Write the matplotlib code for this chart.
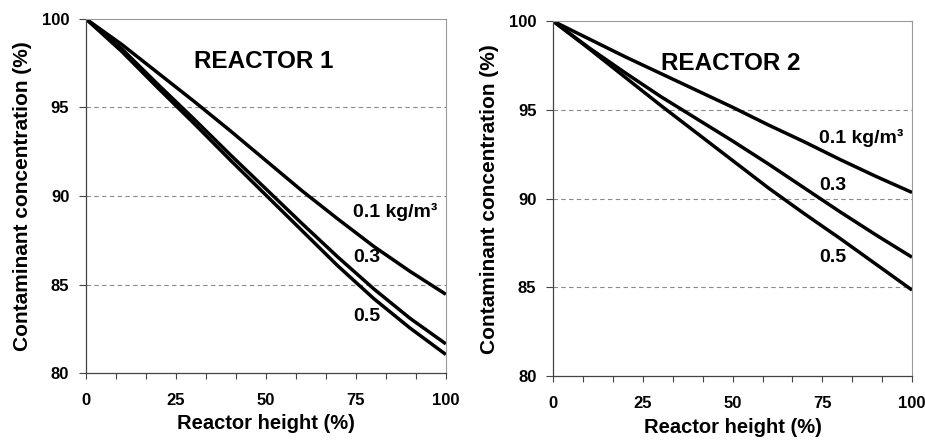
import numpy as np
import matplotlib
matplotlib.use("Agg")
from matplotlib import pyplot as plt
from matplotlib.ticker import MultipleLocator

plt.rcParams["font.family"] = ["Liberation Sans", "DejaVu Sans"]
plt.rcParams["font.weight"] = "bold"

# reactor height (%)
height = [0, 10, 20, 30, 40, 50, 60, 70, 80, 90, 100]

# reactor 1, contaminant concentration (%)
r1_01 = [100, 98.55, 96.95, 95.35, 93.7, 92.0, 90.3, 88.7, 87.15, 85.75, 84.45]
r1_03 = [100, 98.3, 96.3, 94.35, 92.35, 90.4, 88.45, 86.55, 84.75, 83.1, 81.65]
r1_05 = [100, 98.15, 96.1, 94.1, 92.05, 90.05, 88.05, 86.05, 84.2, 82.55, 81.05]

# reactor 2
r2_01 = [100, 99.0, 98.0, 97.05, 96.1, 95.15, 94.15, 93.2, 92.2, 91.25, 90.35]
r2_03 = [100, 98.5, 97.1, 95.75, 94.5, 93.25, 91.95, 90.6, 89.25, 87.95, 86.7]
r2_05 = [100, 98.45, 96.85, 95.25, 93.7, 92.15, 90.6, 89.15, 87.75, 86.3, 84.85]

labels = ["0.1 kg/m\u00b3", "0.3", "0.5"]
label_y1 = [89.1, 86.5, 83.2]
label_y2 = [93.4, 90.75, 86.7]

xticks = [0, 25, 50, 75, 100]
yticks = [80, 85, 90, 95, 100]


def draw_panel(ax, series, title, label_y):
    for s in series:
        ax.plot(height, s, color="black", lw=2.5, solid_capstyle="butt",
                solid_joinstyle="round")
    for y in [85, 90, 95]:
        ax.axhline(y, color="#8a8a8a", lw=0.8, dashes=(4, 3), zorder=0)
    ax.set_xlim(0, 100)
    ax.set_ylim(80, 100)
    ax.set_xticks(xticks)
    ax.set_yticks(yticks)
    ax.xaxis.set_minor_locator(MultipleLocator(100 / 12))
    ax.tick_params(axis="x", which="both", direction="out", length=4, width=0.8,
                   color="#444444", labelsize=12, pad=10)
    ax.tick_params(axis="y", direction="out", length=5, width=0.8,
                   color="#444444", labelsize=12, pad=7)
    for sp in ["left", "bottom"]:
        ax.spines[sp].set_color("#444444")
        ax.spines[sp].set_linewidth(0.9)
    for sp in ["top", "right"]:
        ax.spines[sp].set_color("#9a9a9a")
        ax.spines[sp].set_linewidth(0.8)
    ax.set_xlabel("Reactor height (%)", fontsize=14.5, fontweight="bold", labelpad=5)
    ax.set_ylabel("Contaminant concentration (%)", fontsize=15, fontweight="bold", labelpad=7)
    ax.text(49.5, 97.6, title, fontsize=17.5, fontweight="bold", ha="center", va="center")
    for lab, y in zip(labels, label_y):
        ax.text(74.2, y, lab, fontsize=14, fontweight="bold", ha="left", va="center")


fig = plt.figure(figsize=(9.25, 4.41), dpi=100)
ax1 = fig.add_axes([0.093, 0.154, 0.389, 0.803])
ax2 = fig.add_axes([0.598, 0.147, 0.388, 0.805])

draw_panel(ax1, [r1_01, r1_03, r1_05], "REACTOR 1", label_y1)
draw_panel(ax2, [r2_01, r2_03, r2_05], "REACTOR 2", label_y2)

fig.savefig("out.png", dpi=100)
